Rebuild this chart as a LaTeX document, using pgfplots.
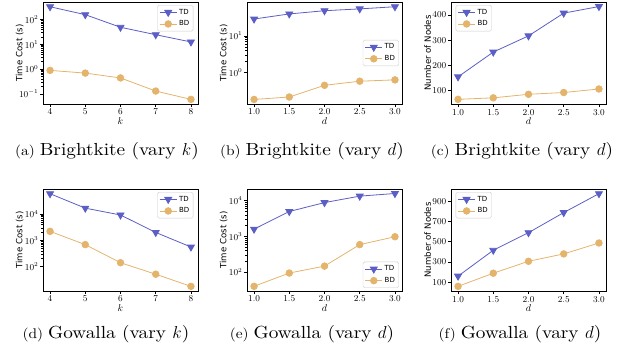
\documentclass[border=0pt]{standalone}
\usepackage{fontspec}
\setsansfont{DejaVu Sans}
\newfontfamily\capfont[Extension=.otf, FakeStretch=1.1]{lmroman10-regular}
\usepackage{pgfplots}
\pgfplotsset{compat=1.18}
\definecolor{tdc}{HTML}{5B5EC4}
\definecolor{bdc}{HTML}{E4B46C}
\pgfplotsset{
  panel/.style={
    scale only axis, width=155pt, height=102pt,
    axis line style={line width=0.9pt, black},
    tick pos=left, tick align=outside,
    major tick length=3pt, minor tick length=1.6pt,
    every tick/.style={black, line width=0.6pt},
    tick label style={font=\fontsize{8.6}{9}\selectfont},
    yticklabel style={inner sep=1.5pt},
    xticklabel style={inner sep=2pt},
    xlabel style={font=\fontsize{10}{11}\selectfont, inner sep=1pt, yshift=1pt},
    ylabel style={font=\sffamily\fontsize{8.6}{9}\selectfont, at={(axis description cs:-0.15,0.5)}, anchor=center},
    legend style={font=\sffamily\fontsize{7}{8}\selectfont, draw=black!20, rounded corners=1.5pt, inner sep=1.8pt, row sep=1pt},
    legend cell align=left,
  },
  td/.style={color=tdc, line width=0.8pt, mark=triangle*, mark size=4pt, mark options={rotate=180, solid}},
  bd/.style={color=bdc, line width=0.8pt, mark=*, mark size=3.3pt},
  kaxis/.style={xmin=3.8,xmax=8.2,xtick={4,5,6,7,8}, xlabel={$k$}},
  daxis/.style={xmin=0.9,xmax=3.1,xtick={1,1.5,2,2.5,3}, xlabel={$d$},
    x tick label style={/pgf/number format/.cd, fixed, fixed zerofill, precision=1, /tikz/.cd}},
}
\newcommand{\subcap}[3]{\node[anchor=base, inner sep=0pt] at (#1) {\capfont{\fontsize{14}{15}\selectfont (#2)}\hspace{5pt}{\fontsize{17.5}{20}\selectfont #3}};}
\begin{document}
\begin{tikzpicture}
\useasboundingbox (0pt,0pt) rectangle (624pt,-353pt);
% (a)
\begin{axis}[panel, kaxis, ymode=log, ymin=0.039, ymax=513, ytick={0.1,1,10,100}, ylabel={Time Cost (s)},
  at={(43pt,-104pt)}, anchor=south west, legend style={at={(0.97,0.97)}, anchor=north east}]
\addplot[td] coordinates {(4,330) (5,158) (6,49) (7,24.5) (8,12.5)};
\addplot[bd] coordinates {(4,0.89) (5,0.69) (6,0.44) (7,0.13) (8,0.06)};
\legend{TD,BD}
\end{axis}
% (b)
\begin{axis}[panel, daxis, ymode=log, ymin=0.135, ymax=85, ytick={1,10}, ylabel={Time Cost (s)},
  at={(247pt,-104pt)}, anchor=south west, legend style={at={(0.98,0.5)}, anchor=east}]
\addplot[td] coordinates {(1,29) (1.5,40) (2,49) (2.5,55) (3,63)};
\addplot[bd] coordinates {(1,0.18) (1.5,0.21) (2,0.44) (2.5,0.57) (3,0.62)};
\legend{TD,BD}
\end{axis}
% (c)
\begin{axis}[panel, daxis, ymin=47.6, ymax=451, ytick={100,200,300,400}, ylabel={Number of Nodes},
  at={(451pt,-104pt)}, anchor=south west, legend style={at={(0.03,0.97)}, anchor=north west}]
\addplot[td] coordinates {(1,155) (1.5,253) (2,317) (2.5,407) (3,433)};
\addplot[bd] coordinates {(1,66) (1.5,72) (2,86) (2.5,93) (3,107)};
\legend{TD,BD}
\end{axis}
% (d)
\begin{axis}[panel, kaxis, ymode=log, ymin=12, ymax=89000, ytick={100,1000,10000}, ylabel={Time Cost (s)},
  at={(43pt,-291pt)}, anchor=south west, legend style={at={(0.97,0.97)}, anchor=north east}]
\addplot[td] coordinates {(4,59000) (5,16700) (6,9200) (7,2000) (8,560)};
\addplot[bd] coordinates {(4,2200) (5,690) (6,142) (7,52) (8,18)};
\legend{TD,BD}
\end{axis}
% (e)
\begin{axis}[panel, daxis, ymode=log, ymin=29.5, ymax=21400, ytick={100,1000,10000}, ylabel={Time Cost (s)},
  at={(247pt,-291pt)}, anchor=south west, legend style={at={(0.98,0.03)}, anchor=south east}]
\addplot[td] coordinates {(1,1600) (1.5,5000) (2,8900) (2.5,13500) (3,16000)};
\addplot[bd] coordinates {(1,40) (1.5,94) (2,147) (2.5,590) (3,980)};
\legend{TD,BD}
\end{axis}
% (f)
\begin{axis}[panel, daxis, ymin=12, ymax=1021, ytick={100,300,500,700,900}, ylabel={Number of Nodes},
  at={(451pt,-291pt)}, anchor=south west, legend style={at={(0.03,0.97)}, anchor=north west}]
\addplot[td] coordinates {(1,159) (1.5,415) (2,589) (2.5,788) (3,975)};
\addplot[bd] coordinates {(1,58) (1.5,188) (2,306) (2.5,379) (3,487)};
\legend{TD,BD}
\end{axis}
\subcap{107pt,-155pt}{a}{Brightkite (vary $k$)}
\subcap{312pt,-155pt}{b}{Brightkite (vary $d$)}
\subcap{522pt,-155pt}{c}{Brightkite (vary $d$)}
\subcap{106pt,-338pt}{d}{Gowalla (vary $k$)}
\subcap{312pt,-338pt}{e}{Gowalla (vary $d$)}
\subcap{520pt,-338pt}{f}{Gowalla (vary $d$)}
\end{tikzpicture}
\end{document}
